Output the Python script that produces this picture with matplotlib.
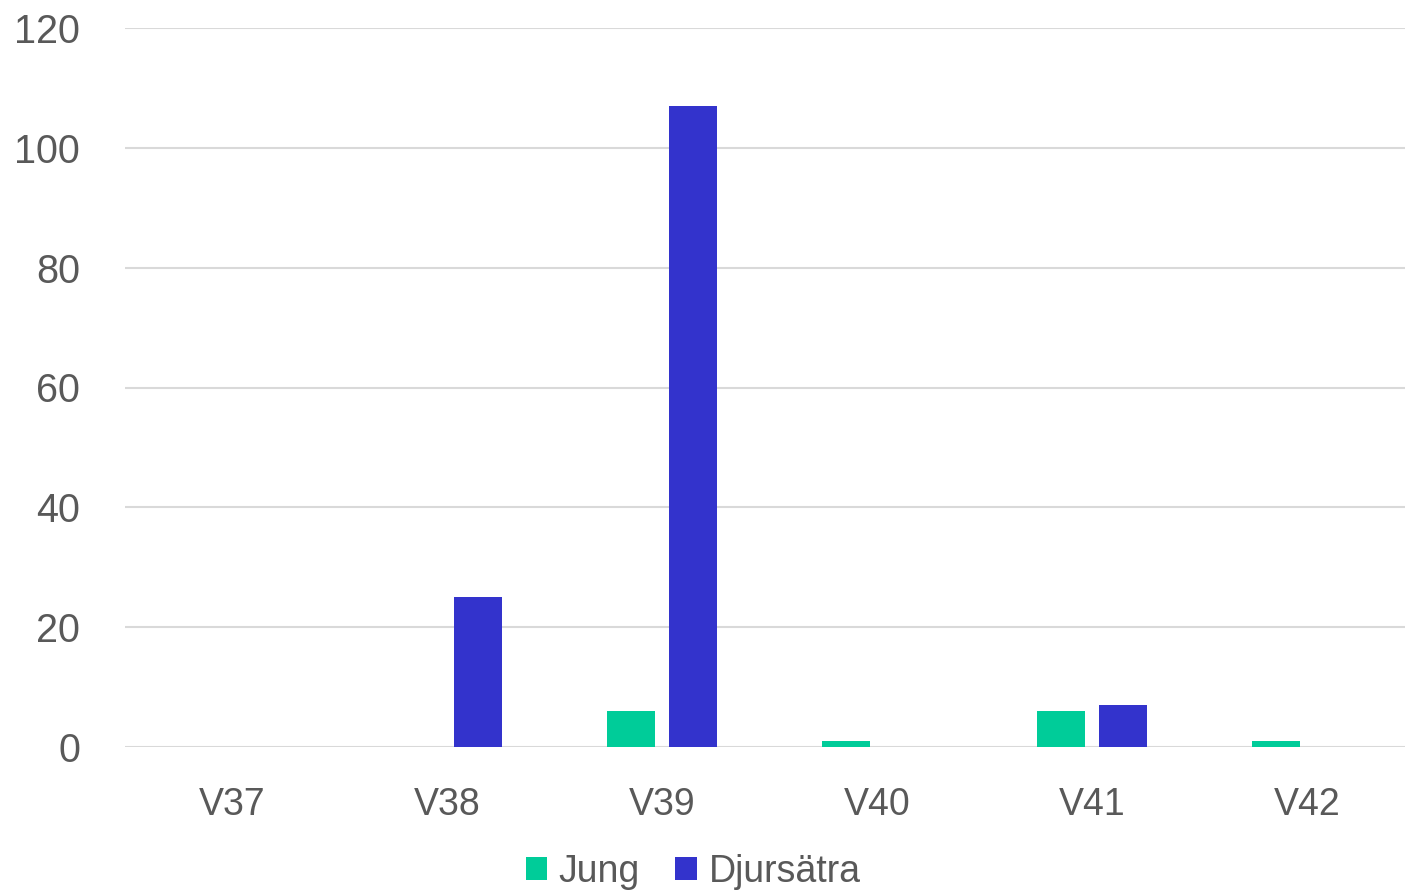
import matplotlib.pyplot as plt
import numpy as np

plt.rcParams['font.family'] = ['Liberation Sans', 'DejaVu Sans']

weeks = ['V37', 'V38', 'V39', 'V40', 'V41', 'V42']
jung = [0, 0, 6, 1, 6, 1]
djursatra = [0, 25, 107, 0, 7, 0]

fig = plt.figure(figsize=(14.05, 8.92), dpi=100)
# plot area runs slightly past the right edge of the image, as in the original
ax = fig.add_axes([124.5 / 1405, 1 - 747 / 892, 1290 / 1405, (747 - 28) / 892])

x = np.arange(len(weeks))
w = 0.223
off = 0.142
ax.bar(x - off, jung, w, color='#00CC99', label='Jung', zorder=3)
ax.bar(x + off, djursatra, w, color='#3333CC', label='Djursätra', zorder=3)

ax.set_xlim(-0.5, len(weeks) - 0.5)
ax.set_ylim(0, 120)
ax.set_yticks(range(0, 121, 20))
ax.set_xticks(x)
ax.set_xticklabels(weeks)
ax.grid(axis='y', color='#D9D9D9', linewidth=1.5, zorder=0)
ax.set_axisbelow(True)
for s in ax.spines.values():
    s.set_visible(False)
ax.tick_params(axis='both', length=0, colors='#595959')
ax.tick_params(axis='y', labelsize=28.5, pad=32)
ax.tick_params(axis='x', labelsize=27, pad=29)

leg = fig.legend(loc='center', bbox_to_anchor=(693 / 1405, 1 - 872 / 892), ncol=2,
                 frameon=False, fontsize=27, handlelength=0.58, handleheight=0.58,
                 handletextpad=0.3, columnspacing=0.95, borderaxespad=0)
for t in leg.get_texts():
    t.set_color('#595959')

fig.savefig('out.png', dpi=100)
